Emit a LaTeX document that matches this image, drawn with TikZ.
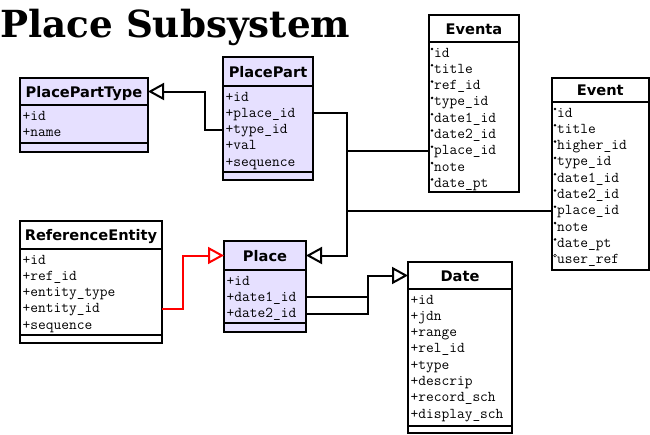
\documentclass[tikz,border=0pt]{standalone}
\usepackage{fontspec}
\usetikzlibrary{arrows.meta,calc}
\newfontfamily\titlefam{DejaVu Serif}
\newfontfamily\hdrfam{DejaVu Sans}
\newfontfamily\monofam{Latin Modern Mono}
\definecolor{lav}{RGB}{230,224,255}
\definecolor{redline}{RGB}{255,0,0}
\begin{document}
\begin{tikzpicture}[x=1pt,y=-1pt,
  hdr/.style={draw,line width=2pt,anchor=north west,inner sep=0pt,outer sep=0pt,
    font=\hdrfam\bfseries\fontsize{14.6}{16}\selectfont,text height=11pt,text depth=0pt},
  body/.style={draw,line width=2pt,anchor=north west,inner sep=0pt,outer sep=0pt},
  lavfill/.style={fill=lav},
  whitefill/.style={fill=white},
  fld/.style={anchor=base west,inner sep=0pt,font=\monofam\fontsize{15}{16}\selectfont,
    text height=8pt,text depth=0pt},
  sepline/.style={line width=2pt},
  conn/.style={line width=2pt},
  inh/.style={-{Triangle[open,length=16pt,width=17pt]}},
  bulletdot/.style={fill=black},
  opendot/.style={draw=black,line width=0.5pt},
]
\useasboundingbox (0,0) rectangle (650,434);

% title
\node[anchor=base west,inner sep=0pt,font=\titlefam\bfseries\fontsize{37.3}{40}\selectfont] (title) at (0,37) {Place Subsystem};

% PlacePartType
\node[hdr,lavfill,minimum width=128pt,minimum height=27pt] (ppt-h) at (20,78) {PlacePartType};
\node[body,lavfill,minimum width=128pt,minimum height=47pt] (ppt) at (ppt-h.south west) {};
\foreach \t [count=\i from 0] in {+id,+name}
  \node[fld] (ppt-\i) at ($(ppt.north west)+(2.5,15+16.3*\i)$) {\t};
\draw[sepline] ($(ppt.south west)+(0,-9)$) -- ($(ppt.south east)+(0,-9)$);

% PlacePart
\node[hdr,lavfill,minimum width=90pt,minimum height=29pt] (pp-h) at (223,57) {PlacePart};
\node[body,lavfill,minimum width=90pt,minimum height=94pt] (pp) at (pp-h.south west) {};
\foreach \t [count=\i from 0] in {+id,+place\_id,+type\_id,+val,+sequence}
  \node[fld] (pp-\i) at ($(pp.north west)+(2.5,15+16.3*\i)$) {\t};
\draw[sepline] ($(pp.south west)+(0,-8)$) -- ($(pp.south east)+(0,-8)$);

% Eventa
\node[hdr,whitefill,minimum width=90pt,minimum height=27pt] (ea-h) at (429,15) {Eventa};
\node[body,whitefill,minimum width=90pt,minimum height=150pt] (ea) at (ea-h.south west) {};
\foreach \t [count=\i from 0] in {id,title,ref\_id,type\_id,date1\_id,date2\_id,place\_id,note,date\_pt}{
  \node[fld] (ea-\i) at ($(ea.north west)+(5,15+16.3*\i)$) {\t};
  \fill[bulletdot] ($(ea.north west)+(3,15+16.3*\i-8)$) circle (1.4pt);
}

% Event
\node[hdr,whitefill,minimum width=96.5pt,minimum height=24pt] (ev-h) at (552,78) {Event};
\node[body,whitefill,minimum width=96.5pt,minimum height=168pt] (ev) at (ev-h.south west) {};
\foreach \t [count=\i from 0] in {id,title,higher\_id,type\_id,date1\_id,date2\_id,place\_id,note,date\_pt}{
  \node[fld] (ev-\i) at ($(ev.north west)+(5,15+16.3*\i)$) {\t};
  \fill[bulletdot] ($(ev.north west)+(3,15+16.3*\i-8)$) circle (1.4pt);
}
\node[fld] (ev-9) at ($(ev.north west)+(5,15+16.3*9)$) {user\_ref};
\draw[opendot] ($(ev.north west)+(3,15+16.3*9-8)$) circle (1.4pt);

% ReferenceEntity
\node[hdr,whitefill,minimum width=142pt,minimum height=28pt] (re-h) at (20,221) {ReferenceEntity};
\node[body,whitefill,minimum width=142pt,minimum height=94pt] (re) at (re-h.south west) {};
\foreach \t [count=\i from 0] in {+id,+ref\_id,+entity\_type,+entity\_id,+sequence}
  \node[fld] (re-\i) at ($(re.north west)+(2.5,15+16.3*\i)$) {\t};
\draw[sepline] ($(re.south west)+(0,-8)$) -- ($(re.south east)+(0,-8)$);

% Place
\node[hdr,lavfill,minimum width=82pt,minimum height=29pt] (pl-h) at (224,241) {Place};
\node[body,lavfill,minimum width=82pt,minimum height=62pt] (pl) at (pl-h.south west) {};
\foreach \t [count=\i from 0] in {+id,+date1\_id,+date2\_id}
  \node[fld] (pl-\i) at ($(pl.north west)+(2.5,15+16.3*\i)$) {\t};
\draw[sepline] ($(pl.south west)+(0,-9)$) -- ($(pl.south east)+(0,-9)$);

% Date
\node[hdr,whitefill,minimum width=104pt,minimum height=27pt] (dt-h) at (408,262) {Date};
\node[body,whitefill,minimum width=104pt,minimum height=144pt] (dt) at (dt-h.south west) {};
\foreach \t [count=\i from 0] in {+id,+jdn,+range,+rel\_id,+type,+descrip,+record\_sch,+display\_sch}
  \node[fld] (dt-\i) at ($(dt.north west)+(2.5,15+16.3*\i)$) {\t};
\draw[sepline] ($(dt.south west)+(0,-7)$) -- ($(dt.south east)+(0,-7)$);

% connectors
\coordinate (busx) at (347,0);
\coordinate (djx) at (368,0);
\draw[conn,inh] (pp.west |- pp-2) -- ++(-18,0) |- (ppt-h.east);
\draw[conn,inh] (pp.east |- pp-1) -| (busx |- pl-h.east) -- (pl-h.east);
\draw[conn] (ea.west |- ea-6) -- (busx |- ea-6);
\draw[conn] (ev.west |- ev-6) -- (busx |- ev-6);
\draw[conn,redline,inh] (re.east |- re-3) -- ++(21,0) |- (pl-h.west);
\draw[conn,inh] (pl.east |- pl-1) -| (djx |- dt-h.west) -- (dt-h.west);
\draw[conn] (pl.east |- pl-2) -| (djx |- pl-1);
\end{tikzpicture}
\end{document}
